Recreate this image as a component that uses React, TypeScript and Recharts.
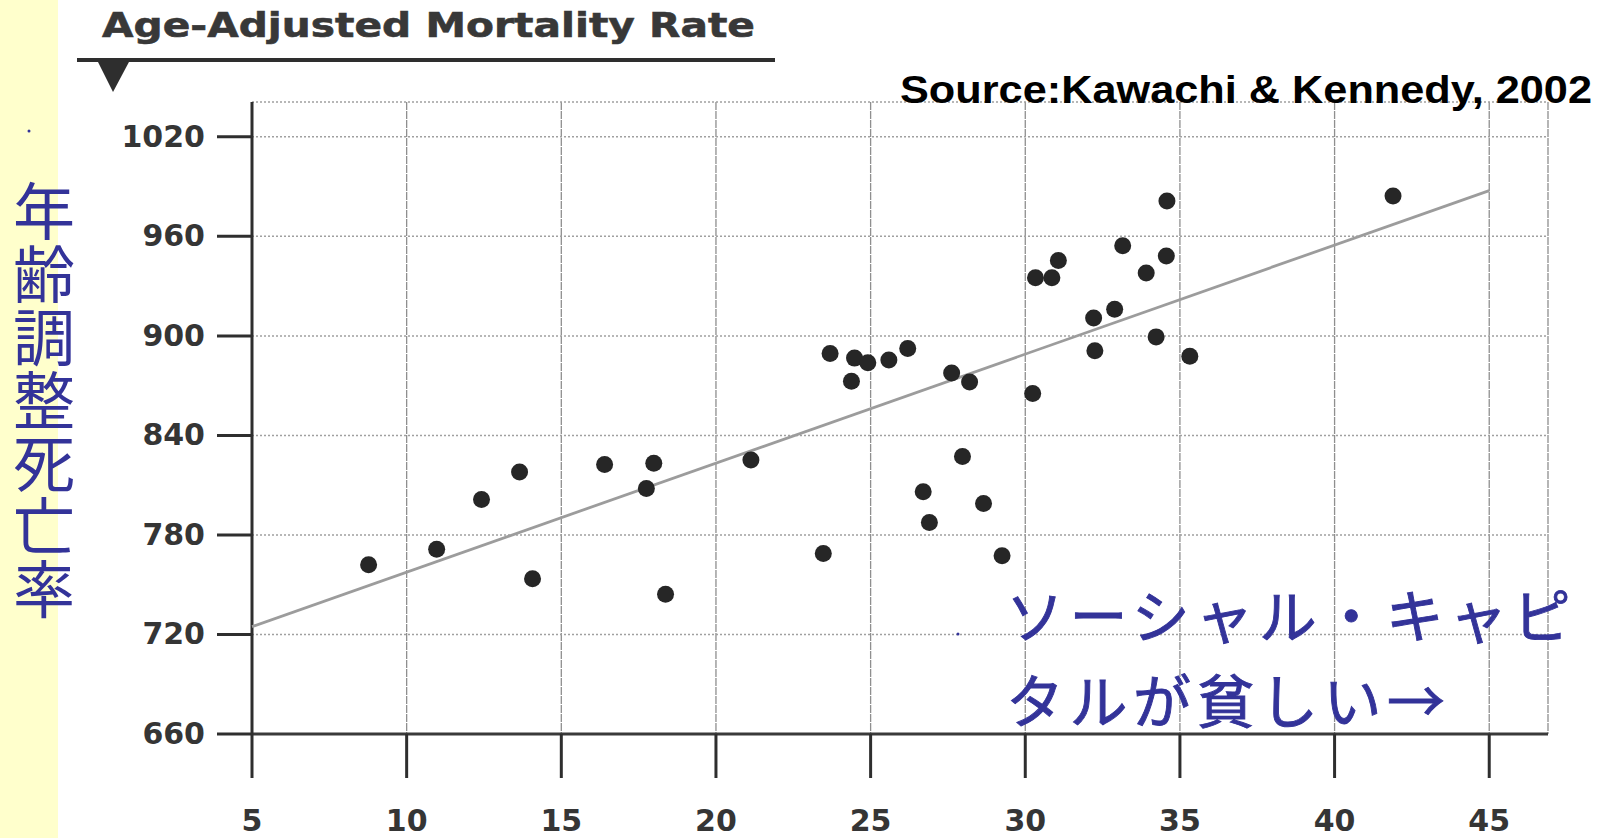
import React from 'react';
import { ComposedChart, Scatter, XAxis, YAxis, CartesianGrid } from 'recharts';

// Social capital index (x) and age-adjusted mortality rate (y) per state
const socialCapital = [
  8.77, 10.97, 12.42, 13.65, 14.07, 16.4, 17.75, 17.99, 18.37, 21.13,
  23.47, 23.69, 24.38, 24.48, 24.91, 25.59, 26.2, 26.7, 26.9, 27.62,
  27.97, 28.2, 28.65, 29.25, 30.24, 30.33, 30.86, 31.07, 32.21, 32.25,
  32.89, 33.15, 33.91, 34.23, 34.56, 34.58, 35.32, 41.89,
];
const mortality = [
  762, 771.4, 801.4, 818, 753.6, 822.4, 808, 823.2, 744.2, 825.2,
  768.8, 889.4, 872.6, 886.6, 883.8, 885.4, 892.4, 806, 787.5, 877.6,
  827.3, 872.2, 799, 767.4, 865.3, 935.1, 935.1, 945.5, 910.8, 891,
  916, 954.4, 937.9, 899.4, 948.2, 981.3, 887.7, 984.3,
];
const trendX = [5, 45];
const trendY = [724.7, 987.6];

const xTicks = [5, 10, 15, 20, 25, 30, 35, 40, 45];
const yTicks = [660, 720, 780, 840, 900, 960, 1020];

const titleText = 'Age-Adjusted Mortality Rate';
const sourceText = 'Source:Kawachi & Kennedy, 2002';
const yLabelText = '年齢調整死亡率';
const noteLines = ['ソーシャル・キャピ', 'タルが貧しい→'];

const points = socialCapital.map((x, i) => ({ x, y: mortality[i] }));
const trend = trendX.map((x, i) => ({ x, y: trendY[i] }));

const TICK_FONT = '"DejaVu Sans", Verdana, sans-serif';
const BLUE = '#333399';

const YTick = (props: any) => {
  const { x, y, payload } = props;
  return (
    <text x={x} y={y + 10} textAnchor="end" fontFamily={TICK_FONT} fontWeight="bold" fontSize={30} fill="#353535">
      {payload.value}
    </text>
  );
};

const XTick = (props: any) => {
  const { x, y, payload } = props;
  return (
    <text x={x} y={y + 53} textAnchor="middle" fontFamily={TICK_FONT} fontWeight="bold" fontSize={30} fill="#353535">
      {payload.value}
    </text>
  );
};

const Dot = (props: any) => {
  const { cx, cy } = props;
  if (cx == null || cy == null) return <g />;
  return <circle cx={cx} cy={cy} r={8.5} fill="#262626" />;
};

const NoShape = () => <g />;

export default function App() {
  return (
    <div style={{ position: 'fixed', left: 0, top: 0, width: 1604, height: 838, background: '#ffffff', overflow: 'hidden' }}>
      <svg width={1604} height={838} style={{ position: 'absolute', left: 0, top: 0 }}>
        <rect x={0} y={0} width={58} height={838} fill="#FFFFCC" />
      </svg>
      <div style={{ position: 'absolute', left: 0, top: 0 }}>
        <ComposedChart width={1604} height={838} margin={{ top: 102, right: 56, bottom: 0, left: 0 }}>
          <CartesianGrid horizontal={false} stroke="#8f8f8f" strokeWidth={1.3} strokeDasharray="8 1" />
          <CartesianGrid vertical={false} stroke="#a0a0a0" strokeWidth={1.5} strokeDasharray="2 2" />
          <XAxis
            type="number"
            dataKey="x"
            domain={[5, 46.9]}
            ticks={xTicks}
            interval={0}
            height={104}
            tickSize={44}
            tickMargin={0}
            axisLine={{ stroke: '#3a3a3a', strokeWidth: 3 }}
            tickLine={{ stroke: '#2e2e2e', strokeWidth: 3 }}
            tick={<XTick />}
          />
          <YAxis
            type="number"
            dataKey="y"
            domain={[660, 1041]}
            ticks={yTicks}
            interval={0}
            width={252}
            tickSize={35}
            tickMargin={12}
            axisLine={{ stroke: '#2e2e2e', strokeWidth: 3 }}
            tickLine={{ stroke: '#2e2e2e', strokeWidth: 3 }}
            tick={<YTick />}
          />
          <Scatter
            data={trend}
            line={{ stroke: '#9c9c9c', strokeWidth: 2.8 }}
            shape={NoShape}
            isAnimationActive={false}
            legendType="none"
          />
          <Scatter data={points} shape={Dot} isAnimationActive={false} legendType="none" />
        </ComposedChart>
      </div>
      <svg width={1604} height={838} style={{ position: 'absolute', left: 0, top: 0, pointerEvents: 'none' }}>
        <text
          x={102}
          y={37}
          fontFamily={TICK_FONT}
          fontWeight="bold"
          fontSize={34}
          fill="#383838"
          stroke="#383838"
          strokeWidth={0.6}
          textLength={653}
          lengthAdjust="spacingAndGlyphs"
        >
          {titleText}
        </text>
        <line x1={77} y1={60} x2={775} y2={60} stroke="#2e2e2e" strokeWidth={4} />
        <polygon points="97,60 130,60 113,92" fill="#2e2e2e" />
        <text
          x={900}
          y={103}
          fontFamily='"Liberation Sans", Arial, sans-serif'
          fontWeight="bold"
          fontSize={38}
          fill="#000"
          textLength={692}
          lengthAdjust="spacingAndGlyphs"
        >
          {sourceText}
        </text>
        <text
          x={44}
          y={180}
          fontFamily='"Noto Sans CJK JP", sans-serif'
          fontSize={62}
          fill={BLUE}
          letterSpacing={1}
          style={{ writingMode: 'vertical-rl' as any }}
        >
          {yLabelText}
        </text>
        <circle cx={29} cy={131} r={1.5} fill={BLUE} />
        {noteLines.map((t, i) => (
          <text
            key={i}
            x={1006}
            y={638 + i * 85}
            fontFamily='"Noto Sans CJK JP", sans-serif'
            fontSize={58}
            letterSpacing={5.5}
            fill={BLUE}
            stroke={BLUE}
            strokeWidth={0.9}
          >
            {t}
          </text>
        ))}
        <circle cx={958} cy={634} r={1.5} fill={BLUE} />
      </svg>
    </div>
  );
}
